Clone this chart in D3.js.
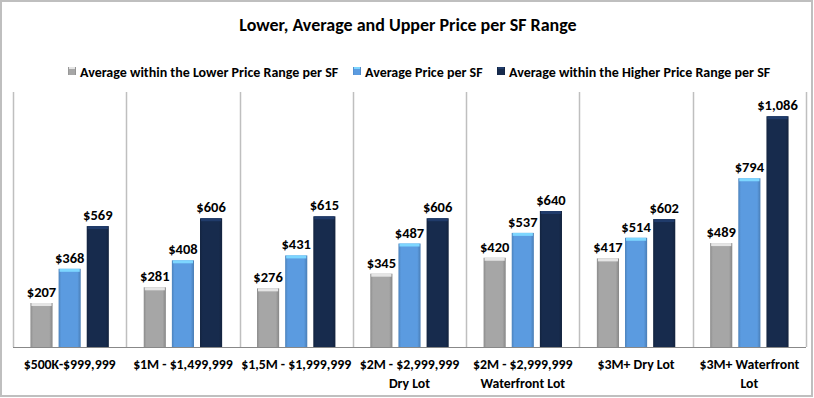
<!DOCTYPE html>
<html><head><meta charset="utf-8">
<script src="https://cdn.jsdelivr.net/npm/d3@7"></script>
<style>
body{margin:0;background:#fff;}
text{font-family:Carlito,Calibri,Lato,"Open Sans",sans-serif;font-weight:bold;fill:#000;}
</style></head>
<body>
<svg id="c" width="814" height="398"></svg>
<script>
const categories = [["$500K-$999,999"],["$1M - $1,499,999"],["$1,5M - $1,999,999"],["$2M - $2,999,999","Dry Lot"],["$2M - $2,999,999","Waterfront Lot"],["$3M+ Dry Lot"],["$3M+ Waterfront","Lot"]];
const seriesNames = ["Average within the Lower Price Range per SF","Average Price per SF","Average within the Higher Price Range per SF"];
const lowerValues = [207,281,276,345,420,417,489];
const averageValues = [368,408,431,487,537,514,794];
const higherValues = [569,606,615,606,640,602,1086];
const seriesColors = ["#a6a6a6","#5b9be0","#172b4d"];
const seriesData = [lowerValues, averageValues, higherValues];

const svg = d3.select("#c");
const W = 814, H = 398;
const m = {l:13, r:8, t:92, b:51};

const defs = svg.append("defs");
seriesColors.forEach((c,i)=>{
  const g = defs.append("linearGradient").attr("id","g"+i).attr("x1","0").attr("x2","1").attr("y1","0").attr("y2","0");
  const base = d3.color(c);
  g.append("stop").attr("offset","0%").attr("stop-color", base.darker(0.5));
  g.append("stop").attr("offset","12%").attr("stop-color", base);
  g.append("stop").attr("offset","85%").attr("stop-color", base);
  g.append("stop").attr("offset","100%").attr("stop-color", base.darker(0.6));
});

svg.append("rect").attr("x",1).attr("y",1).attr("width",W-3).attr("height",H-3)
  .attr("fill","#fff").attr("stroke","#bfbfbf").attr("stroke-width",2);

const x = d3.scaleBand().domain(d3.range(categories.length)).range([m.l, W-m.r]).paddingInner(0).paddingOuter(0);
const xs = d3.scaleBand().domain(d3.range(3)).range([0, x.bandwidth()]).paddingInner(0.214).paddingOuter(0.62);
const y = d3.scaleLinear().domain([0,1200]).range([H-m.b, m.t]);

const bounds = d3.range(categories.length+1).map(i => i<categories.length ? x(i) : x(i-1)+x.bandwidth());
svg.append("g").selectAll("line").data(bounds).join("line")
  .attr("x1",d=>Math.round(d)+0.5).attr("x2",d=>Math.round(d)+0.5)
  .attr("y1",m.t).attr("y2",H-m.b)
  .attr("stroke","#bfbfbf").attr("stroke-width",1.5);

svg.append("line").attr("x1",m.l).attr("x2",W-m.r).attr("y1",H-m.b+0.5).attr("y2",H-m.b+0.5)
  .attr("stroke","#888").attr("stroke-width",1);

seriesData.forEach((vals,si)=>{
  const g = svg.append("g");
  vals.forEach((v,ci)=>{
    const bx = x(ci)+xs(si), bw = xs.bandwidth(), by = y(v), bh = y(0)-y(v);
    g.append("rect").attr("x",bx).attr("y",by).attr("width",bw).attr("height",bh).attr("fill",`url(#g${si})`);
    g.append("rect").attr("x",bx+1).attr("y",by).attr("width",bw-2).attr("height",3)
      .attr("fill", d3.color(seriesColors[si]).brighter(0.9));
    g.append("text").attr("x",bx+bw/2).attr("y",by-6).attr("text-anchor","middle")
      .attr("font-size",14.5).text("$"+d3.format(",")(v));
  });
});

categories.forEach((lines,ci)=>{
  const t = svg.append("text").attr("x",x(ci)+x.bandwidth()/2).attr("y",369).attr("text-anchor","middle").attr("font-size",13.8);
  lines.forEach((l,li)=>t.append("tspan").attr("x",x(ci)+x.bandwidth()/2).attr("dy",li?19:0).text(l));
});

svg.append("text").attr("x",408).attr("y",31).attr("text-anchor","middle").attr("font-size",18).text("Lower, Average and Upper Price per SF Range");

const legX = [68, 353, 497];
seriesNames.forEach((n,i)=>{
  svg.append("rect").attr("x",legX[i]).attr("y",67).attr("width",8).attr("height",8).attr("fill",`url(#g${i})`);
  svg.append("rect").attr("x",legX[i]+1).attr("y",67).attr("width",6).attr("height",2).attr("fill",d3.color(seriesColors[i]).brighter(0.9));
  svg.append("text").attr("x",legX[i]+12).attr("y",76.5).attr("font-size",14).text(n);
});
</script>
</body></html>
